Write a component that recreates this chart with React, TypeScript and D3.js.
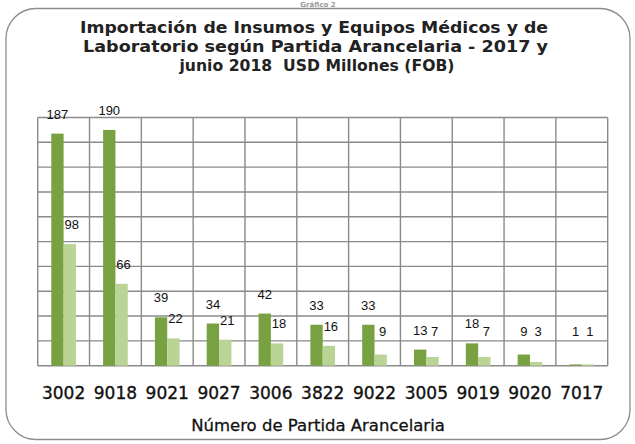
import React from "react";
import * as d3 from "d3";

const categories = ["3002", "9018", "9021", "9027", "3006", "3822", "9022", "3005", "9019", "9020", "7017"];
const values2017 = [187, 190, 39, 34, 42, 33, 33, 13, 18, 9, 1];
const values2018 = [98, 66, 22, 21, 18, 16, 9, 7, 7, 3, 1];
const yTicks = [0, 20, 40, 60, 80, 100, 120, 140, 160, 180, 200];
const titleLines = [
  "Importación de Insumos y Equipos Médicos y de",
  "Laboratorio según Partida Arancelaria - 2017 y",
  "junio 2018  USD Millones (FOB)",
];
const xAxisTitle = "Número de Partida Arancelaria";
const topLabel = "Gráfico 2";

const W = 635;
const H = 444;
const plot = { left: 37.7, right: 607.7, top: 117.5, bottom: 365.7 };
const DARK = "#78a241";
const LIGHT = "#bad496";
const GRID = "#8a8a8a";

export default function App() {
  const x = d3.scaleBand<string>().domain(categories).range([plot.left, plot.right]).padding(0);
  const y = d3.scaleLinear().domain([0, 200]).range([plot.bottom, plot.top]);
  const bw = x.bandwidth() * 0.238;
  const labelY = (v: number) => Math.min(y(v) - 15, plot.bottom - 30);

  const titleSpecs = [
    { cx: 314, w: 468, yb: 33 },
    { cx: 315.5, w: 465, yb: 52 },
    { cx: 317, w: 275, yb: 71 },
  ];

  return (
    <svg
      width={W}
      height={H}
      style={{ position: "absolute", left: 0, top: 0, background: "#fff" }}
      fontFamily="'DejaVu Sans', Verdana, sans-serif"
    >
      <rect x={0} y={0} width={W} height={H} fill="#fff" />
      <text x={318} y={7} textAnchor="middle" fontSize={7} fontWeight="bold" fill="#999">
        {topLabel}
      </text>
      <rect x={6} y={8.5} width={624} height={431} rx={30} ry={30} fill="none" stroke="#8c8c8c" strokeWidth={1.3} />

      {titleLines.map((t, i) => (
        <text
          key={i}
          x={titleSpecs[i].cx}
          y={titleSpecs[i].yb}
          textAnchor="middle"
          fontSize={15}
          fontWeight="bold"
          fill="#222"
          textLength={titleSpecs[i].w}
          lengthAdjust="spacingAndGlyphs"
          style={{ whiteSpace: "pre" }}
        >
          {t}
        </text>
      ))}

      {/* grid */}
      {yTicks.map((t) => (
        <line key={"h" + t} x1={plot.left} x2={plot.right} y1={y(t)} y2={y(t)} stroke={GRID} strokeWidth={1.4} />
      ))}
      {categories.map((c) => (
        <line key={"v" + c} x1={x(c)!} x2={x(c)!} y1={plot.top} y2={plot.bottom} stroke={GRID} strokeWidth={1.4} />
      ))}
      <line x1={plot.right} x2={plot.right} y1={plot.top} y2={plot.bottom} stroke={GRID} strokeWidth={1.4} />

      {/* bars */}
      {categories.map((c, i) => {
        const cx = x(c)! + x.bandwidth() / 2;
        return (
          <g key={"b" + c}>
            <rect x={cx - bw} y={y(values2017[i])} width={bw} height={plot.bottom - y(values2017[i])} fill={DARK} />
            <rect x={cx} y={y(values2018[i])} width={bw} height={plot.bottom - y(values2018[i])} fill={LIGHT} />
          </g>
        );
      })}

      {/* value labels */}
      {categories.map((c, i) => {
        const cx = x(c)! + x.bandwidth() / 2;
        return (
          <g key={"l" + c} fontFamily="'Liberation Sans Narrow', 'Liberation Sans', Arial, sans-serif" fontSize={13} fill="#111">
            <text x={cx - bw / 2} y={labelY(values2017[i])} textAnchor="middle">
              {values2017[i]}
            </text>
            <text x={cx + bw / 2 + 2} y={labelY(values2018[i])} textAnchor="middle">
              {values2018[i]}
            </text>
          </g>
        );
      })}

      {/* category labels */}
      {categories.map((c) => (
        <text key={"c" + c} x={x(c)! + x.bandwidth() / 2} y={399} textAnchor="middle" fontSize={17} fill="#111" stroke="#111" strokeWidth={0.35}>
          {c}
        </text>
      ))}

      <text x={318} y={431} textAnchor="middle" fontSize={16.5} fill="#111" stroke="#111" strokeWidth={0.3}>
        {xAxisTitle}
      </text>
    </svg>
  );
}
